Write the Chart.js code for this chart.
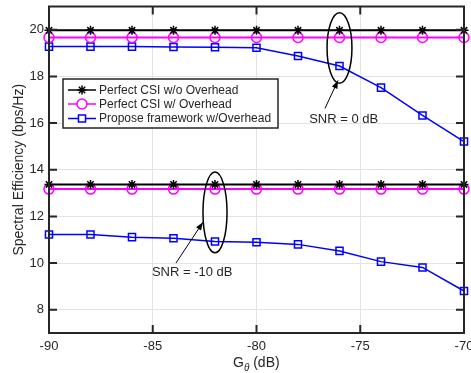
<!DOCTYPE html>
<html>
<head>
<meta charset="utf-8">
<script src="https://cdn.jsdelivr.net/npm/chart.js@4.4.0/dist/chart.umd.min.js"></script>
<style>
  html, body { margin: 0; padding: 0; background: #fff; }
  #wrap { width: 471px; height: 373px; }
</style>
</head>
<body>
<div id="wrap"><canvas id="seChart" width="471" height="373"></canvas></div>
<script>
// ---- data ----
const gTheta = [-90, -88, -86, -84, -82, -80, -78, -76, -74, -72, -70];

// SNR = 0 dB
const perfectNoOh0 = [19.98, 19.98, 19.98, 19.98, 19.98, 19.98, 19.98, 19.98, 19.98, 19.98, 19.98];
const perfectOh0   = [19.67, 19.67, 19.67, 19.67, 19.67, 19.67, 19.67, 19.67, 19.67, 19.67, 19.67];
const proposed0    = [19.28, 19.28, 19.28, 19.26, 19.25, 19.23, 18.88, 18.45, 17.52, 16.33, 15.21];

// SNR = -10 dB
const perfectNoOh10 = [13.37, 13.37, 13.37, 13.37, 13.37, 13.37, 13.37, 13.37, 13.37, 13.37, 13.37];
const perfectOh10   = [13.17, 13.17, 13.17, 13.17, 13.17, 13.17, 13.17, 13.17, 13.17, 13.17, 13.17];
const proposed10    = [11.22, 11.22, 11.11, 11.06, 10.92, 10.89, 10.80, 10.52, 10.06, 9.81, 8.80];

const xTicks = [-90, -85, -80, -75, -70];
const yTicks = [8, 10, 12, 14, 16, 18, 20];
const legendLabels = ["Perfect CSI w/o Overhead", "Perfect CSI w/ Overhead", "Propose framework w/Overhead"];
const snrLabels = ["SNR = 0 dB", "SNR = -10 dB"];

const FONT = '"Liberation Sans", Arial, Helvetica, sans-serif';
const AXIS = "#262626";
const GRID = "#e3e3e3";

// styles per curve family
const styles = [
  { color: "#000000", pointStyle: "star", radius: 4.5, lw: 2 },
  { color: "#ff00ff", pointStyle: "circle", radius: 5, lw: 2 },
  { color: "#0000ff", pointStyle: "rect", radius: 5, lw: 1.5 },
];

function series(values, st) {
  return {
    data: values.map((v, i) => ({ x: gTheta[i], y: v })),
    borderColor: st.color,
    backgroundColor: "rgba(0,0,0,0)",
    borderWidth: st.lw,
    pointStyle: st.pointStyle,
    pointRadius: st.radius,
    pointBorderWidth: 1.5,
    pointBorderColor: st.color,
    pointBackgroundColor: "rgba(0,0,0,0)",
    tension: 0,
    clip: false,
  };
}

// ---- box, inward ticks, annotations, legend, axis titles ----
const decorPlugin = {
  id: "decor",
  afterDraw(chart) {
    const ctx = chart.ctx;
    const a = chart.chartArea;
    const xs = chart.scales.x, ys = chart.scales.y;
    ctx.save();

    // axis box
    ctx.strokeStyle = AXIS;
    ctx.lineWidth = 2;
    ctx.strokeRect(a.left, a.top, a.right - a.left, a.bottom - a.top);

    // inward ticks on all four sides
    const tl = 8;
    ctx.beginPath();
    xTicks.forEach(v => {
      const px = xs.getPixelForValue(v);
      ctx.moveTo(px, a.bottom); ctx.lineTo(px, a.bottom - tl);
      ctx.moveTo(px, a.top); ctx.lineTo(px, a.top + tl);
    });
    yTicks.forEach(v => {
      const py = ys.getPixelForValue(v);
      ctx.moveTo(a.left, py); ctx.lineTo(a.left + tl, py);
      ctx.moveTo(a.right, py); ctx.lineTo(a.right - tl, py);
    });
    ctx.stroke();

    // ellipses marking the SNR groups
    ctx.strokeStyle = "#000";
    ctx.lineWidth = 1.5;
    const ell = (cx, cy, hx, hy) => {
      const px = xs.getPixelForValue(cx), py = ys.getPixelForValue(cy);
      const rx = Math.abs(xs.getPixelForValue(cx + hx) - px);
      const ry = Math.abs(ys.getPixelForValue(cy + hy) - py);
      ctx.beginPath();
      ctx.ellipse(px, py, rx, ry, 0, 0, Math.PI * 2);
      ctx.stroke();
    };
    ell(-76, 19.22, 0.6, 1.51);
    ell(-82, 12.17, 0.58, 1.73);

    // arrows
    const arrow = (x0, y0, x1, y1) => {
      const p0 = [xs.getPixelForValue(x0), ys.getPixelForValue(y0)];
      const p1 = [xs.getPixelForValue(x1), ys.getPixelForValue(y1)];
      ctx.lineWidth = 1;
      ctx.beginPath();
      ctx.moveTo(p0[0], p0[1]); ctx.lineTo(p1[0], p1[1]);
      ctx.stroke();
      const ang = Math.atan2(p1[1] - p0[1], p1[0] - p0[0]);
      const hl = 8, hw = 3;
      ctx.beginPath();
      ctx.moveTo(p1[0], p1[1]);
      ctx.lineTo(p1[0] - hl * Math.cos(ang) + hw * Math.sin(ang), p1[1] - hl * Math.sin(ang) - hw * Math.cos(ang));
      ctx.lineTo(p1[0] - hl * Math.cos(ang) - hw * Math.sin(ang), p1[1] - hl * Math.sin(ang) + hw * Math.cos(ang));
      ctx.closePath();
      ctx.fillStyle = "#000";
      ctx.fill();
    };
    arrow(-76.7, 16.63, -76.07, 17.83);
    arrow(-83.88, 10.0, -82.58, 11.75);

    ctx.fillStyle = AXIS;
    ctx.font = "13px " + FONT;
    ctx.textAlign = "center";
    ctx.textBaseline = "middle";
    ctx.fillText(snrLabels[0], xs.getPixelForValue(-75.8), ys.getPixelForValue(16.16));
    ctx.fillText(snrLabels[1], xs.getPixelForValue(-83.1), ys.getPixelForValue(9.6));

    // legend
    const lx = 63, ly = 79, lw = 215, lh = 49;
    ctx.fillStyle = "#fff";
    ctx.fillRect(lx, ly, lw, lh);
    ctx.strokeStyle = AXIS;
    ctx.lineWidth = 1.5;
    ctx.strokeRect(lx, ly, lw, lh);
    const rows = [90, 104, 118.5];
    chart.data.datasets.slice(0, 3).forEach((ds, i) => {
      const y = rows[i];
      ctx.strokeStyle = ds.borderColor;
      ctx.lineWidth = 1.5;
      ctx.beginPath();
      ctx.moveTo(68, y); ctx.lineTo(96, y);
      ctx.stroke();
      ctx.fillStyle = "#fff";
      Chart.helpers.drawPoint(ctx, { pointStyle: ds.pointStyle, radius: ds.pointRadius, borderWidth: 1.5 }, 82, y);
      ctx.fillStyle = AXIS;
      ctx.font = "12px " + FONT;
      ctx.textAlign = "left";
      ctx.textBaseline = "middle";
      ctx.fillText(legendLabels[i], 99, y + 0.5);
    });

    // x title: G_theta (dB)
    ctx.fillStyle = AXIS;
    ctx.textBaseline = "middle";
    ctx.textAlign = "left";
    ctx.font = "14px " + FONT;
    const tx = 233, ty = 363;
    ctx.fillText("G", tx, ty);
    const gw = ctx.measureText("G").width;
    ctx.font = "italic 10px " + FONT;
    ctx.fillText("\u03b8", tx + gw, ty + 5);
    const thw = ctx.measureText("\u03b8").width;
    ctx.font = "14px " + FONT;
    ctx.fillText(" (dB)", tx + gw + thw, ty);

    // y title
    ctx.translate(19, (a.top + a.bottom) / 2);
    ctx.rotate(-Math.PI / 2);
    ctx.textAlign = "center";
    ctx.fillText("Spectral Efficiency (bps/Hz)", 0, 0);
    ctx.restore();
  }
};

new Chart(document.getElementById("seChart"), {
  type: "line",
  data: {
    datasets: [
      series(perfectNoOh0, styles[0]),
      series(perfectOh0, styles[1]),
      series(proposed0, styles[2]),
      series(perfectNoOh10, styles[0]),
      series(perfectOh10, styles[1]),
      series(proposed10, styles[2]),
    ],
  },
  options: {
    responsive: false,
    animation: false,
    devicePixelRatio: 1,
    layout: { padding: { top: 6, right: 7, left: 0, bottom: 0 } },
    plugins: { legend: { display: false }, tooltip: { enabled: false } },
    scales: {
      x: {
        type: "linear",
        min: -90, max: -70,
        afterBuildTicks: s => { s.ticks = xTicks.map(v => ({ value: v })); },
        afterFit: s => {
          s.height = 40;
          s.paddingLeft = 0; s.paddingRight = 0; s.paddingTop = 0; s.paddingBottom = 0;
        },
        ticks: { color: AXIS, font: { family: FONT, size: 13 }, padding: 6, maxRotation: 0, autoSkip: false },
        grid: { color: GRID, lineWidth: 1, drawTicks: false },
        border: { display: false },
      },
      y: {
        min: 7, max: 21,
        afterBuildTicks: s => { s.ticks = yTicks.map(v => ({ value: v })); },
        afterFit: s => {
          s.width = 49;
          s.paddingLeft = 0; s.paddingRight = 0; s.paddingTop = 0; s.paddingBottom = 0;
        },
        ticks: { color: AXIS, font: { family: FONT, size: 13 }, padding: 5 },
        grid: { color: GRID, lineWidth: 1, drawTicks: false },
        border: { display: false },
      },
    },
  },
  plugins: [decorPlugin],
});
</script>
</body>
</html>
